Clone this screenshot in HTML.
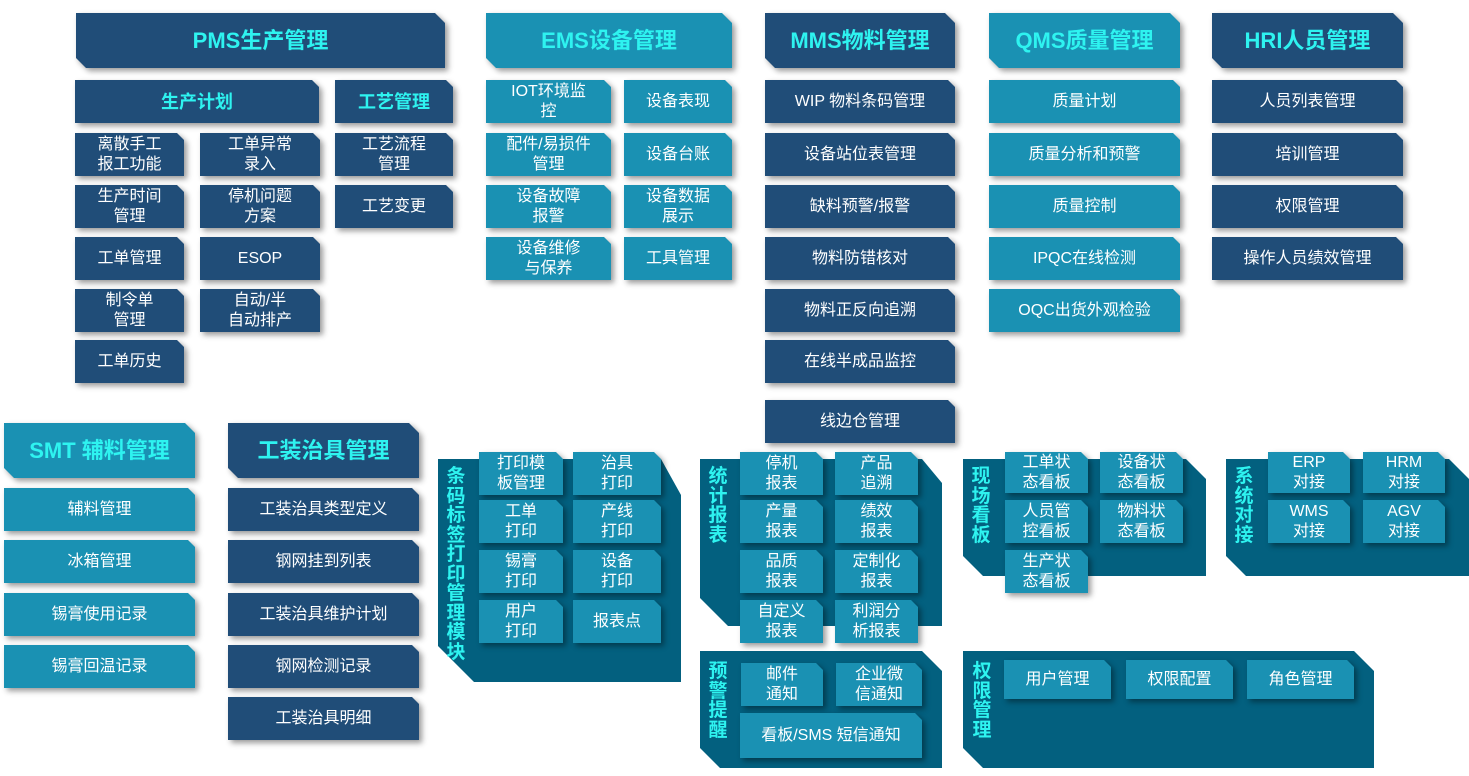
<!DOCTYPE html><html><head><meta charset="utf-8"><style>
body{margin:0;width:1469px;height:776px;background:#fff;position:relative;overflow:hidden;font-family:"Liberation Sans","Noto Sans CJK SC",sans-serif}
.b{position:absolute;display:flex;align-items:center;justify-content:center;text-align:center;color:#fff;font-size:16px;line-height:20px;filter:drop-shadow(3px 3px 3px rgba(0,0,0,.4))}
.b::before{content:"";position:absolute;inset:0;clip-path:polygon(0 0,calc(100% - 7px) 0,100% 7px,100% 100%,0 100%)}
.b span{position:relative}
.n::before{background:#204d78}.t::before{background:#1a91b3}
.h{font-size:22px;font-weight:bold;color:#2ef3f0}
.h::before{clip-path:polygon(0 0,calc(100% - 10px) 0,100% 10px,100% 100%,10px 100%,0 calc(100% - 10px))}
.s{font-size:18px;font-weight:bold;color:#2ef3f0}
.p{position:absolute;background:#03607f}
.pt{position:absolute;color:#2ef3f0;font-weight:bold;font-size:19px;line-height:19.5px;width:20px;text-align:center}
</style></head><body>
<!-- PMS -->
<div class="b n h" style="left:76px;top:13px;width:369px;height:55px"><span>PMS生产管理</span></div>
<div class="b n s" style="left:75px;top:80px;width:244px;height:43px"><span>生产计划</span></div>
<div class="b n s" style="left:335px;top:80px;width:118px;height:43px"><span>工艺管理</span></div>
<div class="b n" style="left:75px;top:133px;width:109px;height:43px"><span>离散手工<br>报工功能</span></div>
<div class="b n" style="left:75px;top:185px;width:109px;height:43px"><span>生产时间<br>管理</span></div>
<div class="b n" style="left:75px;top:237px;width:109px;height:43px"><span>工单管理</span></div>
<div class="b n" style="left:75px;top:289px;width:109px;height:43px"><span>制令单<br>管理</span></div>
<div class="b n" style="left:75px;top:340px;width:109px;height:43px"><span>工单历史</span></div>
<div class="b n" style="left:200px;top:133px;width:120px;height:43px"><span>工单异常<br>录入</span></div>
<div class="b n" style="left:200px;top:185px;width:120px;height:43px"><span>停机问题<br>方案</span></div>
<div class="b n" style="left:200px;top:237px;width:120px;height:43px"><span>ESOP</span></div>
<div class="b n" style="left:200px;top:289px;width:120px;height:43px"><span>自动/半<br>自动排产</span></div>
<div class="b n" style="left:335px;top:133px;width:118px;height:43px"><span>工艺流程<br>管理</span></div>
<div class="b n" style="left:335px;top:185px;width:118px;height:43px"><span>工艺变更</span></div>
<!-- EMS -->
<div class="b t h" style="left:486px;top:13px;width:246px;height:55px"><span>EMS设备管理</span></div>
<div class="b t" style="left:486px;top:80px;width:125px;height:43px"><span>IOT环境监<br>控</span></div>
<div class="b t" style="left:486px;top:133px;width:125px;height:43px"><span>配件/易损件<br>管理</span></div>
<div class="b t" style="left:486px;top:185px;width:125px;height:43px"><span>设备故障<br>报警</span></div>
<div class="b t" style="left:486px;top:237px;width:125px;height:43px"><span>设备维修<br>与保养</span></div>
<div class="b t" style="left:624px;top:80px;width:108px;height:43px"><span>设备表现</span></div>
<div class="b t" style="left:624px;top:133px;width:108px;height:43px"><span>设备台账</span></div>
<div class="b t" style="left:624px;top:185px;width:108px;height:43px"><span>设备数据<br>展示</span></div>
<div class="b t" style="left:624px;top:237px;width:108px;height:43px"><span>工具管理</span></div>
<!-- MMS -->
<div class="b n h" style="left:765px;top:13px;width:190px;height:55px"><span>MMS物料管理</span></div>
<div class="b n" style="left:765px;top:80px;width:190px;height:43px"><span>WIP 物料条码管理</span></div>
<div class="b n" style="left:765px;top:133px;width:190px;height:43px"><span>设备站位表管理</span></div>
<div class="b n" style="left:765px;top:185px;width:190px;height:43px"><span>缺料预警/报警</span></div>
<div class="b n" style="left:765px;top:237px;width:190px;height:43px"><span>物料防错核对</span></div>
<div class="b n" style="left:765px;top:289px;width:190px;height:43px"><span>物料正反向追溯</span></div>
<div class="b n" style="left:765px;top:340px;width:190px;height:43px"><span>在线半成品监控</span></div>
<div class="b n" style="left:765px;top:400px;width:190px;height:43px"><span>线边仓管理</span></div>
<!-- QMS -->
<div class="b t h" style="left:989px;top:13px;width:191px;height:55px"><span>QMS质量管理</span></div>
<div class="b t" style="left:989px;top:80px;width:191px;height:43px"><span>质量计划</span></div>
<div class="b t" style="left:989px;top:133px;width:191px;height:43px"><span>质量分析和预警</span></div>
<div class="b t" style="left:989px;top:185px;width:191px;height:43px"><span>质量控制</span></div>
<div class="b t" style="left:989px;top:237px;width:191px;height:43px"><span>IPQC在线检测</span></div>
<div class="b t" style="left:989px;top:289px;width:191px;height:43px"><span>OQC出货外观检验</span></div>
<!-- HRI -->
<div class="b n h" style="left:1212px;top:13px;width:191px;height:55px"><span>HRI人员管理</span></div>
<div class="b n" style="left:1212px;top:80px;width:191px;height:43px"><span>人员列表管理</span></div>
<div class="b n" style="left:1212px;top:133px;width:191px;height:43px"><span>培训管理</span></div>
<div class="b n" style="left:1212px;top:185px;width:191px;height:43px"><span>权限管理</span></div>
<div class="b n" style="left:1212px;top:237px;width:191px;height:43px"><span>操作人员绩效管理</span></div>
<!-- SMT -->
<div class="b t h" style="left:4px;top:423px;width:191px;height:55px"><span>SMT 辅料管理</span></div>
<div class="b t" style="left:4px;top:488px;width:191px;height:43px"><span>辅料管理</span></div>
<div class="b t" style="left:4px;top:540px;width:191px;height:43px"><span>冰箱管理</span></div>
<div class="b t" style="left:4px;top:593px;width:191px;height:43px"><span>锡膏使用记录</span></div>
<div class="b t" style="left:4px;top:645px;width:191px;height:43px"><span>锡膏回温记录</span></div>
<!-- 工装 -->
<div class="b n h" style="left:228px;top:423px;width:191px;height:55px"><span>工装治具管理</span></div>
<div class="b n" style="left:228px;top:488px;width:191px;height:43px"><span>工装治具类型定义</span></div>
<div class="b n" style="left:228px;top:540px;width:191px;height:43px"><span>钢网挂到列表</span></div>
<div class="b n" style="left:228px;top:593px;width:191px;height:43px"><span>工装治具维护计划</span></div>
<div class="b n" style="left:228px;top:645px;width:191px;height:43px"><span>钢网检测记录</span></div>
<div class="b n" style="left:228px;top:697px;width:191px;height:43px"><span>工装治具明细</span></div>
<!-- panels -->
<div class="p" style="left:438px;top:459px;width:243px;height:223px;clip-path:polygon(0 0,223px 0,243px 36px,243px 223px,36px 223px,0 187px)"></div>
<div class="pt" style="left:446px;top:467px">条码标签打印管理模块</div>
<div class="b t" style="left:479px;top:452px;width:84px;height:43px"><span>打印模<br>板管理</span></div>
<div class="b t" style="left:573px;top:452px;width:88px;height:43px"><span>治具<br>打印</span></div>
<div class="b t" style="left:479px;top:500px;width:84px;height:43px"><span>工单<br>打印</span></div>
<div class="b t" style="left:573px;top:500px;width:88px;height:43px"><span>产线<br>打印</span></div>
<div class="b t" style="left:479px;top:550px;width:84px;height:43px"><span>锡膏<br>打印</span></div>
<div class="b t" style="left:573px;top:550px;width:88px;height:43px"><span>设备<br>打印</span></div>
<div class="b t" style="left:479px;top:600px;width:84px;height:43px"><span>用户<br>打印</span></div>
<div class="b t" style="left:573px;top:600px;width:88px;height:43px"><span>报表点</span></div>

<div class="p" style="left:700px;top:459px;width:242px;height:167px;clip-path:polygon(0 0,222px 0,242px 24px,242px 167px,28px 167px,0 139px)"></div>
<div class="pt" style="left:708px;top:467px">统计报表</div>
<div class="b t" style="left:740px;top:452px;width:83px;height:43px"><span>停机<br>报表</span></div>
<div class="b t" style="left:835px;top:452px;width:83px;height:43px"><span>产品<br>追溯</span></div>
<div class="b t" style="left:740px;top:500px;width:83px;height:43px"><span>产量<br>报表</span></div>
<div class="b t" style="left:835px;top:500px;width:83px;height:43px"><span>绩效<br>报表</span></div>
<div class="b t" style="left:740px;top:550px;width:83px;height:43px"><span>品质<br>报表</span></div>
<div class="b t" style="left:835px;top:550px;width:83px;height:43px"><span>定制化<br>报表</span></div>
<div class="b t" style="left:740px;top:600px;width:83px;height:43px"><span>自定义<br>报表</span></div>
<div class="b t" style="left:835px;top:600px;width:83px;height:43px"><span>利润分<br>析报表</span></div>

<div class="p" style="left:700px;top:651px;width:242px;height:117px;clip-path:polygon(0 0,222px 0,242px 20px,242px 117px,20px 117px,0 97px)"></div>
<div class="pt" style="left:708px;top:662px">预警提醒</div>
<div class="b t" style="left:741px;top:663px;width:82px;height:43px"><span>邮件<br>通知</span></div>
<div class="b t" style="left:836px;top:663px;width:86px;height:43px"><span>企业微<br>信通知</span></div>
<div class="b t" style="left:740px;top:713px;width:182px;height:45px"><span>看板/SMS 短信通知</span></div>

<div class="p" style="left:963px;top:459px;width:243px;height:117px;clip-path:polygon(0 0,223px 0,243px 20px,243px 117px,20px 117px,0 97px)"></div>
<div class="pt" style="left:971px;top:467px">现场看板</div>
<div class="b t" style="left:1005px;top:452px;width:83px;height:41px"><span>工单状<br>态看板</span></div>
<div class="b t" style="left:1100px;top:452px;width:83px;height:41px"><span>设备状<br>态看板</span></div>
<div class="b t" style="left:1005px;top:500px;width:83px;height:43px"><span>人员管<br>控看板</span></div>
<div class="b t" style="left:1100px;top:500px;width:83px;height:43px"><span>物料状<br>态看板</span></div>
<div class="b t" style="left:1005px;top:550px;width:83px;height:43px"><span>生产状<br>态看板</span></div>

<div class="p" style="left:1226px;top:459px;width:243px;height:117px;clip-path:polygon(0 0,223px 0,243px 20px,243px 117px,20px 117px,0 97px)"></div>
<div class="pt" style="left:1234px;top:467px">系统对接</div>
<div class="b t" style="left:1268px;top:452px;width:82px;height:41px"><span>ERP<br>对接</span></div>
<div class="b t" style="left:1363px;top:452px;width:82px;height:41px"><span>HRM<br>对接</span></div>
<div class="b t" style="left:1268px;top:500px;width:82px;height:43px"><span>WMS<br>对接</span></div>
<div class="b t" style="left:1363px;top:500px;width:82px;height:43px"><span>AGV<br>对接</span></div>

<div class="p" style="left:963px;top:651px;width:411px;height:117px;clip-path:polygon(0 0,391px 0,411px 20px,411px 117px,20px 117px,0 97px)"></div>
<div class="pt" style="left:972px;top:662px">权限管理</div>
<div class="b t" style="left:1004px;top:660px;width:107px;height:39px"><span>用户管理</span></div>
<div class="b t" style="left:1126px;top:660px;width:107px;height:39px"><span>权限配置</span></div>
<div class="b t" style="left:1247px;top:660px;width:107px;height:39px"><span>角色管理</span></div>
</body></html>
